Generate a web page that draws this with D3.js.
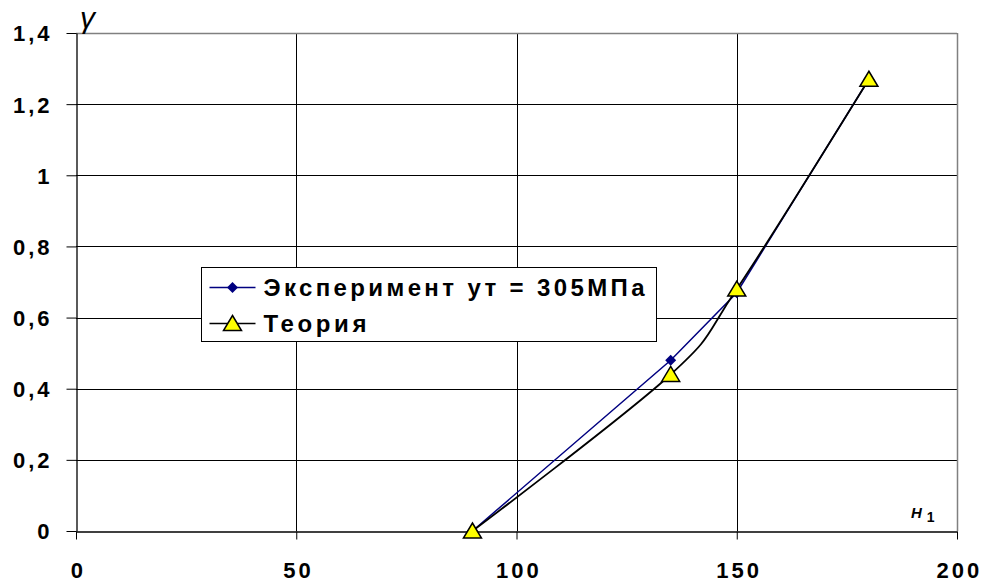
<!DOCTYPE html>
<html>
<head>
<meta charset="utf-8">
<script src="https://cdn.jsdelivr.net/npm/d3@7"></script>
<style>
  body { margin: 0; background: #fff; }
  svg text { font-family: "Liberation Sans", Arial, sans-serif; }
</style>
</head>
<body>
<div id="chart"></div>
<script>
// данные
var xTicks = [0, 50, 100, 150, 200];
var yTicks = [0, 0.2, 0.4, 0.6, 0.8, 1, 1.2, 1.4];
var expH = [90, 135, 150, 180];
var expGamma = [0, 0.48, 0.67, 1.27];
var theoryH = [90, 135, 150, 180];
var theoryGamma = [0, 0.44, 0.68, 1.27];
var seriesNames = ['Эксперимент ут = 305МПа', 'Теория'];

var margin = {top: 33, right: 26, bottom: 57, left: 76};
var svg = d3.select('#chart')
    .append('svg')
    .attr('width', 983)
    .attr('height', 588);

var width = +svg.attr('width') - margin.left - margin.right,
    height = +svg.attr('height') - margin.top - margin.bottom;

var g = svg.append('g')
    .attr('transform', 'translate(' + margin.left + ',' + margin.top + ')');

var x = d3.scaleLinear().domain([0, 200]).range([0, width]);
var y = d3.scaleLinear().domain([0, 1.4]).range([height, 0]);

var fmt = function (d) { return String(d).replace('.', ','); };

// сетка
g.append('g')
    .selectAll('line')
    .data(yTicks.slice(1, -1))
    .enter()
    .append('line')
    .attr('x1', 0).attr('x2', width)
    .attr('y1', function (d) { return Math.round(y(d)) + 0.5; })
    .attr('y2', function (d) { return Math.round(y(d)) + 0.5; })
    .attr('stroke', '#000');

g.append('g')
    .selectAll('line')
    .data(xTicks.slice(1, -1))
    .enter()
    .append('line')
    .attr('y1', 0).attr('y2', height)
    .attr('x1', function (d) { return Math.round(x(d)) + 0.5; })
    .attr('x2', function (d) { return Math.round(x(d)) + 0.5; })
    .attr('stroke', '#000');

// рамка сверху и справа
g.append('line')
    .attr('x1', 0).attr('x2', width).attr('y1', 0.5).attr('y2', 0.5)
    .attr('stroke', '#808080').attr('stroke-width', 1.5);
g.append('line')
    .attr('x1', width + 0.5).attr('x2', width + 0.5).attr('y1', 0).attr('y2', height)
    .attr('stroke', '#808080').attr('stroke-width', 1.5);

// оси
var xAxis = g.append('g')
    .attr('transform', 'translate(0,' + (height + 0.5) + ')')
    .call(d3.axisBottom(x).tickValues(xTicks).tickSize(8).tickSizeOuter(0).tickPadding(23).tickFormat(fmt));
var yAxis = g.append('g')
    .attr('transform', 'translate(0.5,0)')
    .call(d3.axisLeft(y).tickValues(yTicks).tickSize(10).tickSizeOuter(0).tickPadding(14).tickFormat(fmt));

[xAxis, yAxis].forEach(function (ax) {
    ax.select('.domain').attr('stroke', '#000').attr('stroke-width', 1.3);
    ax.selectAll('.tick line').attr('stroke', '#000');
    ax.selectAll('text')
        .attr('fill', '#000')
        .attr('font-size', 22)
        .attr('font-weight', 'bold')
        .attr('letter-spacing', 3)
        .attr('font-family', '"Liberation Sans", Arial, sans-serif');
});
yAxis.selectAll('text').attr('dy', '0.36em');
xAxis.selectAll('text').attr('dx', '0.08em');

// подписи осей
svg.append('text')
    .attr('x', 80)
    .attr('y', 28)
    .attr('font-family', '"Liberation Serif", serif')
    .attr('font-size', 30)
    .attr('font-style', 'italic')
    .text('γ');

var hLabel = svg.append('text')
    .attr('x', 911)
    .attr('y', 518)
    .attr('font-weight', 'bold')
    .attr('font-style', 'italic')
    .attr('font-size', 15);
hLabel.append('tspan').text('H');
hLabel.append('tspan').attr('dx', 5).attr('dy', 4).attr('font-style', 'normal').attr('font-size', 14).text('1');

// линии
var expData = expH.map(function (h, i) { return [h, expGamma[i]]; });
var theoryData = theoryH.map(function (h, i) { return [h, theoryGamma[i]]; });

var straight = d3.line()
    .x(function (d) { return x(d[0]); })
    .y(function (d) { return y(d[1]); });
var smooth = d3.line()
    .x(function (d) { return x(d[0]); })
    .y(function (d) { return y(d[1]); })
    .curve(d3.curveCardinal.tension(0));

g.append('path')
    .datum(expData)
    .attr('fill', 'none')
    .attr('stroke', '#000080')
    .attr('stroke-width', 1.5)
    .attr('d', straight);

g.append('path')
    .datum(theoryData)
    .attr('fill', 'none')
    .attr('stroke', '#000')
    .attr('stroke-width', 1.8)
    .attr('d', smooth);

var diamond = 'M0,-5.5L5.5,0L0,5.5L-5.5,0Z';
var triangle = 'M0,-8L9,7L-9,7Z';

g.append('g')
    .selectAll('path')
    .data(expData)
    .enter()
    .append('path')
    .attr('transform', function (d) { return 'translate(' + x(d[0]) + ',' + y(d[1]) + ')'; })
    .attr('d', diamond)
    .attr('fill', '#000080');

g.append('g')
    .selectAll('path')
    .data(theoryData)
    .enter()
    .append('path')
    .attr('transform', function (d) { return 'translate(' + x(d[0]) + ',' + y(d[1]) + ')'; })
    .attr('d', triangle)
    .attr('fill', '#ffff00')
    .attr('stroke', '#000')
    .attr('stroke-width', 1.5);

// легенда
var legend = svg.append('g').attr('transform', 'translate(201.5,267.5)');
legend.append('rect')
    .attr('width', 455)
    .attr('height', 74)
    .attr('fill', '#fff')
    .attr('stroke', '#000');

var rows = legend.selectAll('g.row')
    .data(seriesNames)
    .enter()
    .append('g')
    .attr('class', 'row')
    .attr('transform', function (d, i) { return 'translate(0,' + (20 + i * 36) + ')'; });

rows.append('line')
    .attr('x1', 8).attr('x2', 54)
    .attr('stroke', function (d, i) { return i === 0 ? '#000080' : '#000'; })
    .attr('stroke-width', 1.5);

rows.filter(function (d, i) { return i === 0; })
    .append('path')
    .attr('transform', 'translate(31,0)')
    .attr('d', diamond)
    .attr('fill', '#000080');

rows.filter(function (d, i) { return i === 1; })
    .append('path')
    .attr('transform', 'translate(31,0)')
    .attr('d', triangle)
    .attr('fill', '#ffff00')
    .attr('stroke', '#000')
    .attr('stroke-width', 1.5);

var textWidths = [381, 103];
rows.append('text')
    .attr('x', 62)
    .attr('dy', '0.36em')
    .attr('font-size', 24)
    .attr('font-weight', 'bold')
    .attr('textLength', function (d, i) { return textWidths[i]; })
    .attr('lengthAdjust', 'spacing')
    .text(function (d) { return d; });
</script>
</body>
</html>
